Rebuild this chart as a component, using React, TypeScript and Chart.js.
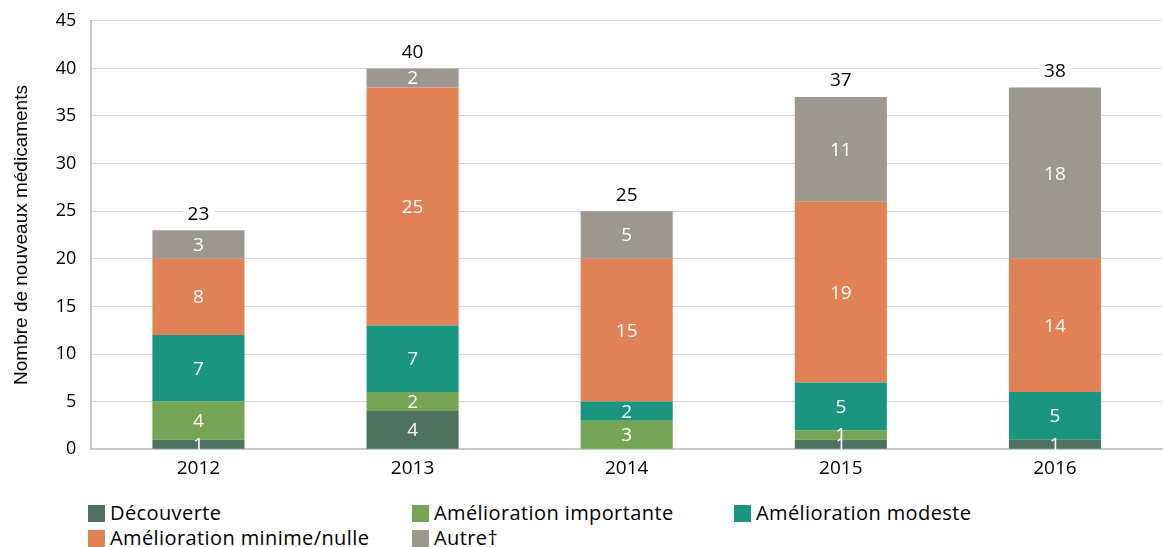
import React, { useEffect, useRef } from "react";
import { Chart, registerables } from "chart.js";

Chart.register(...registerables);

const years = ["2012", "2013", "2014", "2015", "2016"];
const decouverte = [1, 4, 0, 1, 1];
const importante = [4, 2, 3, 1, 0];
const modeste = [7, 7, 2, 5, 5];
const minime = [8, 25, 15, 19, 14];
const autre = [3, 2, 5, 11, 18];
const totals = [23, 40, 25, 37, 38];
const yTicks = [0, 5, 10, 15, 20, 25, 30, 35, 40, 45];

const seriesNames = [
  "Découverte",
  "Amélioration importante",
  "Amélioration modeste",
  "Amélioration minime/nulle",
  "Autre†",
];
const seriesColors = ["#4E7160", "#75A454", "#1A9580", "#E08156", "#9C9890"];

const FONT = "'Open Sans', Roboto, sans-serif";
const TITLE_FONT = "'Liberation Sans', Arial, sans-serif";

const labelPlugin = {
  id: "segLabels",
  afterDatasetsDraw(chart: any) {
    const ctx = chart.ctx;
    ctx.save();
    ctx.font = `19px ${FONT}`;
    ctx.textAlign = "center";
    ctx.textBaseline = "middle";
    chart.data.datasets.forEach((ds: any, di: number) => {
      const meta = chart.getDatasetMeta(di);
      meta.data.forEach((bar: any, i: number) => {
        const v = ds.data[i];
        if (!v) return;
        const yMid = (bar.y + bar.base) / 2;
        ctx.fillStyle = "#ffffff";
        ctx.fillText(String(v), bar.x, yMid + 1);
      });
    });
    const yScale = chart.scales.y;
    const lastMeta = chart.getDatasetMeta(chart.data.datasets.length - 1);
    totals.forEach((t, i) => {
      const x = lastMeta.data[i].x;
      const y = yScale.getPixelForValue(t) - 17;
      const w = ctx.measureText(String(t)).width;
      ctx.fillStyle = "#ffffff";
      ctx.fillRect(x - w / 2 - 5, y - 9, w + 10, 18);
      ctx.fillStyle = "#000000";
      ctx.fillText(String(t), x, y + 1);
    });
    ctx.restore();
  },
};

export default function App() {
  const ref = useRef<HTMLCanvasElement>(null);
  useEffect(() => {
    document.body.style.margin = "0";
    const series = [decouverte, importante, modeste, minime, autre];
    const chart = new Chart(ref.current!, {
      type: "bar",
      data: {
        labels: years,
        datasets: series.map((d, i) => ({
          label: seriesNames[i],
          data: d,
          backgroundColor: seriesColors[i],
          borderWidth: 0,
          categoryPercentage: 1,
          barPercentage: 0.43,
        })),
      },
      options: {
        animation: false,
        responsive: false,
        maintainAspectRatio: false,
        layout: { padding: { top: 3, right: 2, left: 10, bottom: 0 } },
        plugins: {
          legend: { display: false },
          tooltip: { enabled: false },
        },
        scales: {
          x: {
            stacked: true,
            grid: { display: false, drawTicks: false },
            border: { display: true, color: "#c8c8c8", width: 2 },
            ticks: {
              color: "#000",
              font: { family: FONT, size: 19 },
              padding: 8,
            },
          },
          y: {
            stacked: true,
            min: 0,
            max: 45,
            afterBuildTicks: (axis: any) => {
              axis.ticks = yTicks.map((v) => ({ value: v }));
            },
            grid: { color: "#d6d6d6", drawTicks: false, lineWidth: 1 },
            border: { display: true, color: "#c8c8c8", width: 2 },
            ticks: {
              color: "#000",
              font: { family: FONT, size: 18 },
              padding: 15,
            },
            title: {
              display: true,
              text: "Nombre de nouveaux médicaments",
              color: "#000",
              font: { family: TITLE_FONT, size: 19 },
              padding: { top: 0, bottom: 8 },
            },
          },
        },
      },
      plugins: [labelPlugin],
    });
    return () => chart.destroy();
  }, []);

  const legendPos = [
    { left: 88, top: 502 },
    { left: 412, top: 502 },
    { left: 734, top: 502 },
    { left: 88, top: 527 },
    { left: 412, top: 527 },
  ];

  return (
    <div style={{ position: "relative", width: 1164, height: 547, background: "#fff", overflow: "hidden" }}>
      <canvas ref={ref} width={1164} height={493} style={{ position: "absolute", left: 0, top: -5 }} />
      {seriesNames.map((n, i) => (
        <div
          key={n}
          style={{
            position: "absolute",
            left: legendPos[i].left,
            top: legendPos[i].top,
            display: "flex",
            alignItems: "center",
            fontFamily: FONT,
            fontSize: 20,
            letterSpacing: "0.4px",
            color: "#000",
            lineHeight: "22px",
            whiteSpace: "nowrap",
          }}
        >
          <span
            style={{
              display: "inline-block",
              width: 17,
              height: 17,
              background: seriesColors[i],
              marginRight: 5,
            }}
          />
          <span>{n}</span>
        </div>
      ))}
    </div>
  );
}
